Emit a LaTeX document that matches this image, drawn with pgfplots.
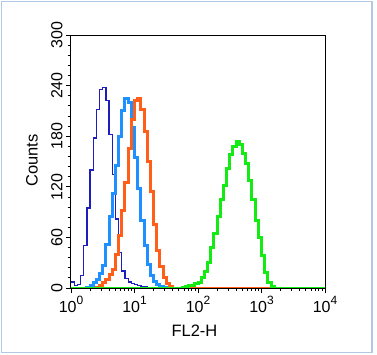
\documentclass[border=0pt]{standalone}
\usepackage{fontspec}
\setmainfont{Liberation Sans}
\usepackage{pgfplots}
\pgfplotsset{compat=1.18}
\definecolor{cdark}{RGB}{30,30,190}
\definecolor{clight}{RGB}{30,144,255}
\definecolor{corange}{RGB}{255,95,25}
\definecolor{cgreen}{RGB}{20,235,20}
\definecolor{cframe}{RGB}{178,200,228}
\newcommand\ex[1]{10\raisebox{0.5em}{\fontsize{12}{12}\selectfont #1}}
\begin{document}
\begin{tikzpicture}
\useasboundingbox (-71pt,-66pt) rectangle (306pt,288pt);
\draw[cframe, line width=1.8pt] (-69.5pt,-64.5pt) rectangle (301pt,286.5pt);
\begin{axis}[
  at={(0pt,0pt)}, anchor=south west,
  scale only axis, width=254pt, height=253pt,
  xmin=0, xmax=4, ymin=0, ymax=300,
  axis on top,
  axis line style={black, line width=1pt},
  tick pos=left, tick align=outside,
  major tick length=5pt, minor tick length=3pt,
  tick style={black, line width=0.8pt},
  xtick={0,1,2,3,4},
  xticklabels={\ex{0},\ex{1},\ex{2},\ex{3},\ex{4}},
  minor xtick={0.301,0.477,0.602,0.699,0.778,0.845,0.903,0.954,
               1.301,1.477,1.602,1.699,1.778,1.845,1.903,1.954,
               2.301,2.477,2.602,2.699,2.778,2.845,2.903,2.954,
               3.301,3.477,3.602,3.699,3.778,3.845,3.903,3.954},
  ytick={0,60,120,180,240,300},
  minor y tick num=4,
  /pgf/number format/assume math mode=true,
  ticklabel style={font=\fontsize{16}{18}\selectfont},
  yticklabel style={rotate=90, anchor=south},
  every axis y label/.style={at={(axis description cs:0,0.503)}, xshift=-39pt, rotate=90, anchor=center, font=\fontsize{16.5}{18}\selectfont},
  every axis x label/.style={at={(axis description cs:0.486,0)}, yshift=-42.5pt, anchor=center, font=\fontsize{16.5}{18}\selectfont},
  ylabel={Counts}, xlabel={FL2-H},
]
\addplot[const plot, cdark, line width=1.3pt] table {
0.00 7
0.05 3
0.10 4
0.15 15
0.20 50
0.25 95
0.30 140
0.35 178
0.40 212
0.45 235
0.50 238
0.55 222
0.60 182
0.65 135
0.70 82
0.75 42
0.80 20
0.85 11
0.90 7
0.95 5
1.00 4
1.05 3
1.10 2
1.15 2
1.20 1
1.25 0
4.00 0
};
\addplot[const plot, clight, line width=3pt] table {
0.00 0
0.25 1
0.30 3
0.35 6
0.40 10
0.45 17
0.50 27
0.55 52
0.60 85
0.65 112
0.70 145
0.75 180
0.80 210
0.85 225
0.90 220
0.95 190
1.00 155
1.05 118
1.10 80
1.15 50
1.20 28
1.25 15
1.30 8
1.35 4
1.40 2
1.45 1
1.50 0
4.00 0
};
\addplot[const plot, corange, line width=3pt] table {
0.00 0
0.40 1
0.45 3
0.50 6
0.55 10
0.60 16
0.65 22
0.70 40
0.75 62
0.80 92
0.85 125
0.90 165
0.95 200
1.00 222
1.05 225
1.10 212
1.15 185
1.20 150
1.25 115
1.30 75
1.35 45
1.40 25
1.45 12
1.50 5
1.55 2
1.60 0
4.00 0
};
\addplot[const plot, cgreen, line width=3pt] table {
0.00 0
1.75 1
1.80 2
1.85 3
1.90 3
1.95 5
2.00 7
2.05 12
2.10 20
2.15 30
2.20 48
2.25 65
2.30 85
2.35 105
2.40 122
2.45 142
2.50 158
2.55 168
2.60 174
2.65 170
2.70 160
2.75 148
2.80 128
2.85 105
2.90 80
2.95 60
3.00 38
3.05 18
3.10 7
3.15 2
3.20 0
4.00 0
};
\end{axis}
\end{tikzpicture}
\end{document}
